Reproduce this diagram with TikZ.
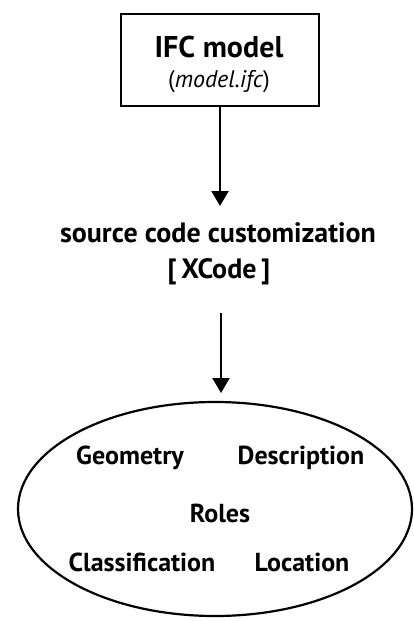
\documentclass[tikz,border=0pt]{standalone}
\usepackage{fontspec}
\setmainfont{PT Sans}
\usetikzlibrary{arrows.meta,shapes.geometric}
\begin{document}
\begin{tikzpicture}[x=1pt,y=-1pt,
  lbl/.style={font=\fontsize{26}{28}\selectfont\bfseries, inner sep=0pt},
  big/.style={font=\fontsize{28}{30}\selectfont\bfseries, inner sep=0pt},
  conn/.style={line width=2.2pt,-{Triangle[width=17pt,length=15pt]}}]
\useasboundingbox (0,0) rectangle (413,621);
\node[draw, line width=2.6pt, minimum width=198pt, minimum height=92pt, inner sep=0pt] (box) at (220,60) {};
\node[big, font=\fontsize{30}{32}\selectfont\bfseries] (ifc) at (219,47) {IFC model};
\node[inner sep=0pt, font=\fontsize{24}{26}\selectfont] (file) at (219,82) {(\textit{model.ifc})};
\node[big] (src) at (218,233) {source code customization};
\node[big] (xc) at (219,272) {[\,XCode\,]};
\coordinate (a1) at (220,206);
\coordinate (a2) at (221,313);
\coordinate (a3) at (221,393);
\node[ellipse, draw, line width=2.2pt, minimum width=394pt, minimum height=214pt, inner sep=0pt] (ell) at (215,509) {};
\node[lbl] (geo) at (130,458) {Geometry};
\node[lbl] (desc) at (301,458) {Description};
\node[lbl] (roles) at (220,513) {Roles};
\node[lbl] (cls) at (142,562) {Classification};
\node[lbl] (loc) at (302,562) {Location};
\draw[conn] (box.south -| a1) -- (a1);
\draw[conn] (a2) -- (a3);
\end{tikzpicture}
\end{document}
